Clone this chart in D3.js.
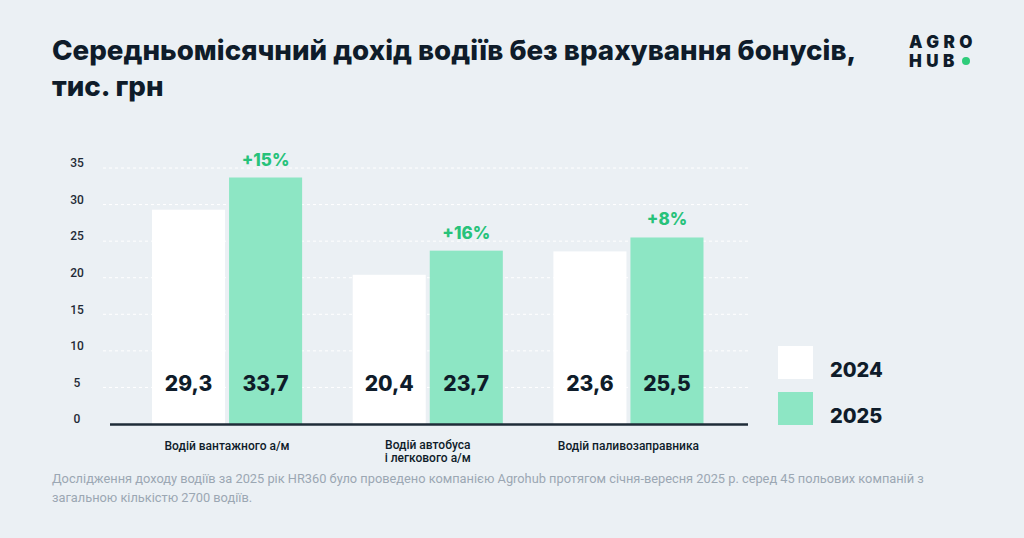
<!DOCTYPE html>
<html>
<head>
<meta charset="utf-8">
<script src="https://cdn.jsdelivr.net/npm/d3@7"></script>
<style>
  html, body { margin: 0; padding: 0; background: #ebf0f4; }
  svg { display: block; }
</style>
</head>
<body>
<div id="chart"></div>
<script>
// Data
const categories = ["Водій вантажного а/м", "Водій автобуса\nі легкового а/м", "Водій паливозаправника"];
const years = ["2024", "2025"];
const values2024 = [29.3, 20.4, 23.6];
const values2025 = [33.7, 23.7, 25.5];
const growth = ["+15%", "+16%", "+8%"];
const yTicks = [0, 5, 10, 15, 20, 25, 30, 35];

const width = 1024, height = 538;
const colors = {"2024": "#ffffff", "2025": "#8de6c4"};
const dark = "#0f1c2a";
const green = "#27c27a";

const svg = d3.select("#chart").append("svg")
    .attr("width", width)
    .attr("height", height);

svg.append("rect").attr("width", width).attr("height", height).attr("fill", "#ebf0f4");

// Title
const title = svg.append("text")
    .attr("x", 52)
    .attr("y", 60)
    .attr("fill", dark)
    .style("font-family", "Inter, 'Noto Sans', sans-serif")
    .style("font-weight", 800)
    .style("font-size", "27.7px");
title.append("tspan").attr("x", 52).text("Середньомісячний дохід водіїв без врахування бонусів,");
title.append("tspan").attr("x", 52).attr("dy", 36).text("тис. грн");

// Logo
const logo = svg.append("g")
    .style("font-family", "Inter, sans-serif")
    .style("font-weight", 900)
    .style("font-size", "17px")
    .attr("fill", dark);
logo.append("text").attr("x", 909).attr("y", 48).attr("letter-spacing", "4.5px").text("AGRO");
logo.append("text").attr("x", 909).attr("y", 67).attr("letter-spacing", "4.5px").text("HUB");
svg.append("circle").attr("cx", 966).attr("cy", 61).attr("r", 4).attr("fill", "#2ecc7a");

// Scales
const margin = {top: 168, bottom: 424, left: 110, right: 748};

const x0 = d3.scaleBand()
    .domain(categories)
    .range([152, 703.5])
    .paddingInner(0.252)
    .paddingOuter(0);

const x1 = d3.scaleBand()
    .domain(years)
    .range([0, x0.bandwidth()])
    .paddingInner(0.052);

const y = d3.scaleLinear()
    .domain([0, 35])
    .range([margin.bottom, margin.top]);

// Grid lines
svg.append("g")
    .selectAll("line")
    .data(yTicks.filter(d => d > 0))
    .enter().append("line")
    .attr("x1", 103)
    .attr("x2", margin.right)
    .attr("y1", d => y(d))
    .attr("y2", d => y(d))
    .attr("stroke", "#ffffff")
    .attr("stroke-width", 1)
    .attr("stroke-dasharray", "3,3");

// Y axis labels
const yAxis = svg.append("g")
    .attr("transform", `translate(77,-5)`)
    .call(d3.axisLeft(y).tickValues(yTicks).tickSize(0).tickPadding(0));
yAxis.select(".domain").remove();
yAxis.selectAll("text")
    .attr("text-anchor", "middle")
    .attr("fill", "#1f2a36")
    .style("font-family", "Roboto, sans-serif")
    .style("font-weight", 500)
    .style("font-size", "12px");

// Bars
const rows = categories.map((c, i) => ({
    category: c,
    bars: [
        {year: "2024", value: values2024[i]},
        {year: "2025", value: values2025[i]}
    ],
    growth: growth[i]
}));

const groups = svg.append("g")
    .selectAll("g")
    .data(rows)
    .enter().append("g")
    .attr("transform", d => `translate(${x0(d.category)},0)`);

groups.selectAll("rect")
    .data(d => d.bars)
    .enter().append("rect")
    .attr("x", d => x1(d.year))
    .attr("width", x1.bandwidth())
    .attr("y", d => y(d.value))
    .attr("height", d => y(0) - y(d.value))
    .attr("fill", d => colors[d.year]);

groups.selectAll(".val")
    .data(d => d.bars)
    .enter().append("text")
    .attr("class", "val")
    .attr("x", d => x1(d.year) + x1.bandwidth() / 2)
    .attr("y", 391)
    .attr("text-anchor", "middle")
    .attr("fill", dark)
    .style("font-family", "Inter, Roboto, sans-serif")
    .style("font-weight", 800)
    .style("font-size", "21px")
    .text(d => d3.format(".1f")(d.value).replace(".", ","));

groups.append("text")
    .attr("x", x1("2025") + x1.bandwidth() / 2)
    .attr("y", d => y(d.bars[1].value) - 12)
    .attr("text-anchor", "middle")
    .attr("fill", green)
    .style("font-family", "Inter, Roboto, sans-serif")
    .style("font-weight", 800)
    .style("font-size", "17px")
    .text(d => d.growth);

// Baseline
svg.append("line")
    .attr("x1", margin.left)
    .attr("x2", margin.right)
    .attr("y1", y(0) + 0.5)
    .attr("y2", y(0) + 0.5)
    .attr("stroke", "#1f2c38")
    .attr("stroke-width", 2.5);

// Category labels
groups.append("text")
    .attr("x", x0.bandwidth() / 2)
    .attr("y", 450)
    .attr("text-anchor", "middle")
    .attr("fill", dark)
    .style("font-family", "Roboto, sans-serif")
    .style("font-weight", 500)
    .style("font-size", "12px")
    .each(function(d) {
        const lines = d.category.split("\n");
        const t = d3.select(this);
        if (lines.length > 1) t.attr("y", 449);
        lines.forEach((l, i) => {
            t.append("tspan")
                .attr("x", x0.bandwidth() / 2)
                .attr("dy", i === 0 ? 0 : 13)
                .text(l);
        });
    });

// Legend
const legend = svg.append("g")
    .selectAll("g")
    .data(years)
    .enter().append("g")
    .attr("transform", (d, i) => `translate(778,${346 + i * 46})`);

legend.append("rect")
    .attr("width", 35)
    .attr("height", 33)
    .attr("fill", d => colors[d]);

legend.append("text")
    .attr("x", 52)
    .attr("y", 31)
    .attr("fill", dark)
    .style("font-family", "Inter, Roboto, sans-serif")
    .style("font-weight", 800)
    .style("font-size", "20px")
    .text(d => d);

// Footnote
const note = svg.append("text")
    .attr("x", 52)
    .attr("y", 483)
    .attr("fill", "#9ba7b3")
    .style("font-family", "Roboto, sans-serif")
    .style("font-size", "12.8px");
note.append("tspan").attr("x", 52)
    .text("Дослідження доходу водіїв за 2025 рік HR360 було проведено компанією Agrohub протягом січня-вересня 2025 р. серед 45 польових компаній з");
note.append("tspan").attr("x", 52).attr("dy", 19)
    .text("загальною кількістю 2700 водіїв.");
</script>
</body>
</html>
